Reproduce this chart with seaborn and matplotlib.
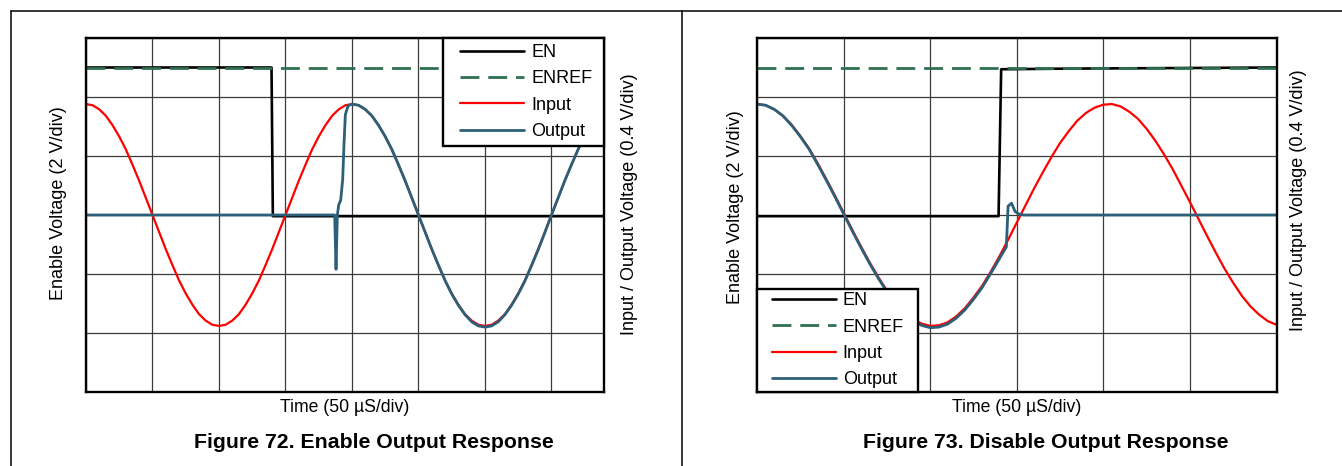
import numpy as np
import pandas as pd
import matplotlib
matplotlib.use("Agg")
import matplotlib.pyplot as plt
import seaborn as sns
from matplotlib.lines import Line2D
from matplotlib.legend_handler import HandlerLine2D

# ---------------- data (time and voltage in divisions) ----------------
series_names = ["EN", "ENREF", "Input", "Output"]

# Figure 72 - Enable Output Response
f72_en_t = [0.0, 2.79, 2.81, 7.79]
f72_en_v = [5.50, 5.50, 2.98, 2.98]
f72_enref_t = [0.0, 7.79]
f72_enref_v = [5.50, 5.50]
f72_in_t = [0.0, 0.1, 0.2, 0.3, 0.4, 0.5, 0.6, 0.7, 0.8, 0.9, 1.0, 1.1, 1.2, 1.3, 1.4, 1.5, 1.6, 1.7, 1.8, 1.9,
            2.0, 2.1, 2.2, 2.3, 2.4, 2.5, 2.6, 2.7, 2.8, 2.9, 3.0, 3.1, 3.2, 3.3, 3.4, 3.5, 3.6, 3.7, 3.8, 3.9,
            4.0, 4.1, 4.2, 4.3, 4.4, 4.5, 4.6, 4.7, 4.8, 4.9, 5.0, 5.1, 5.2, 5.3, 5.4, 5.5, 5.6, 5.7, 5.8, 5.9,
            6.0, 6.1, 6.2, 6.3, 6.4, 6.5, 6.6, 6.7, 6.8, 6.9, 7.0, 7.1, 7.2, 7.3, 7.4, 7.5, 7.6, 7.7, 7.8]
f72_in_v = [4.88, 4.86, 4.79, 4.68, 4.52, 4.33, 4.11, 3.85, 3.58, 3.29, 3.00, 2.71, 2.42, 2.15, 1.89, 1.67, 1.48, 1.32, 1.21, 1.14,
            1.12, 1.14, 1.21, 1.32, 1.48, 1.67, 1.89, 2.15, 2.42, 2.71, 3.00, 3.29, 3.58, 3.85, 4.11, 4.33, 4.52, 4.68, 4.79, 4.86,
            4.88, 4.86, 4.79, 4.68, 4.52, 4.33, 4.11, 3.85, 3.58, 3.29, 3.00, 2.71, 2.42, 2.15, 1.89, 1.67, 1.48, 1.32, 1.21, 1.14,
            1.12, 1.14, 1.21, 1.32, 1.48, 1.67, 1.89, 2.15, 2.42, 2.71, 3.00, 3.29, 3.58, 3.85, 4.11, 4.33, 4.52, 4.68, 4.79]
f72_out_t = [0.0, 3.74, 3.76, 3.78, 3.80, 3.83, 3.86, 3.88, 3.90, 3.94,
             4.0, 4.1, 4.2, 4.3, 4.4, 4.5, 4.6, 4.7, 4.8, 4.9, 5.0, 5.1, 5.2, 5.3, 5.4, 5.5, 5.6, 5.7, 5.8, 5.9,
             6.0, 6.1, 6.2, 6.3, 6.4, 6.5, 6.6, 6.7, 6.8, 6.9, 7.0, 7.1, 7.2, 7.3, 7.4, 7.5, 7.6, 7.7, 7.8]
f72_out_v = [3.00, 3.00, 2.08, 3.00, 3.17, 3.25, 3.60, 4.20, 4.70, 4.85,
             4.88, 4.86, 4.79, 4.68, 4.52, 4.33, 4.11, 3.85, 3.58, 3.29, 3.00, 2.71, 2.42, 2.15, 1.89, 1.66, 1.47, 1.31, 1.19, 1.12,
             1.10, 1.12, 1.19, 1.31, 1.47, 1.66, 1.88, 2.14, 2.41, 2.70, 3.00, 3.29, 3.58, 3.85, 4.11, 4.33, 4.52, 4.68, 4.79]

# Figure 73 - Disable Output Response
f73_en_t = [0.0, 2.79, 2.82, 3.5, 6.0]
f73_en_v = [2.98, 2.98, 5.47, 5.48, 5.50]
f73_enref_t = [0.0, 6.0]
f73_enref_v = [5.50, 5.50]
f73_in_t = [0.0, 0.1, 0.2, 0.3, 0.4, 0.5, 0.6, 0.7, 0.8, 0.9, 1.0, 1.1, 1.2, 1.3, 1.4, 1.5, 1.6, 1.7, 1.8, 1.9,
            2.0, 2.1, 2.2, 2.3, 2.4, 2.5, 2.6, 2.7, 2.8, 2.9, 3.0, 3.1, 3.2, 3.3, 3.4, 3.5, 3.6, 3.7, 3.8, 3.9,
            4.0, 4.1, 4.2, 4.3, 4.4, 4.5, 4.6, 4.7, 4.8, 4.9, 5.0, 5.1, 5.2, 5.3, 5.4, 5.5, 5.6, 5.7, 5.8, 5.9, 6.0]
f73_in_v = [4.88, 4.86, 4.79, 4.68, 4.53, 4.34, 4.13, 3.88, 3.61, 3.33, 3.04, 2.75, 2.47, 2.20, 1.95, 1.72, 1.52, 1.36, 1.24, 1.16,
            1.12, 1.13, 1.18, 1.28, 1.42, 1.60, 1.80, 2.04, 2.30, 2.58, 2.87, 3.16, 3.45, 3.72, 3.98, 4.22, 4.42, 4.60, 4.73, 4.82,
            4.87, 4.88, 4.84, 4.75, 4.63, 4.46, 4.26, 4.03, 3.78, 3.50, 3.22, 2.93, 2.64, 2.36, 2.09, 1.85, 1.63, 1.45, 1.31, 1.20, 1.14]
f73_out_t = [0.0, 0.1, 0.2, 0.3, 0.4, 0.5, 0.6, 0.7, 0.8, 0.9, 1.0, 1.1, 1.2, 1.3, 1.4, 1.5, 1.6, 1.7, 1.8, 1.9,
             2.0, 2.1, 2.2, 2.3, 2.4, 2.5, 2.6, 2.7, 2.8, 2.88, 2.90, 2.94, 2.98, 3.02, 3.08, 6.0]
f73_out_v = [4.88, 4.86, 4.79, 4.68, 4.52, 4.33, 4.12, 3.86, 3.59, 3.31, 3.02, 2.73, 2.45, 2.18, 1.93, 1.70, 1.50, 1.34, 1.21, 1.13,
             1.09, 1.10, 1.15, 1.25, 1.39, 1.57, 1.77, 2.01, 2.26, 2.46, 3.15, 3.20, 3.06, 3.02, 3.00, 3.00]

panel_titles = ["Figure 72. Enable Output Response", "Figure 73. Disable Output Response"]
x_label = "Time (50 µS/div)"
y_label_left = "Enable Voltage (2 V/div)"
y_label_right = "Input / Output Voltage (0.4 V/div)"


def long_frame(en_t, en_v, ref_t, ref_v, in_t, in_v, out_t, out_v):
    parts = []
    for name, t, v in zip(series_names, [en_t, ref_t, in_t, out_t], [en_v, ref_v, in_v, out_v]):
        parts.append(pd.DataFrame({"t": t, "v": v, "series": name}))
    return pd.concat(parts, ignore_index=True)


df72 = long_frame(f72_en_t, f72_en_v, f72_enref_t, f72_enref_v, f72_in_t, f72_in_v, f72_out_t, f72_out_v)
df73 = long_frame(f73_en_t, f73_en_v, f73_enref_t, f73_enref_v, f73_in_t, f73_in_v, f73_out_t, f73_out_v)

# ---------------- style ----------------
sns.set_style("white")
plt.rcParams["font.family"] = ["Liberation Sans", "DejaVu Sans"]
plt.rcParams["text.color"] = "black"

palette = {"EN": "#000000", "ENREF": "#2E7050", "Input": "#FF0000", "Output": "#2C5F78"}
dashes = {"EN": "", "ENREF": (6.8, 3.2), "Input": "", "Output": ""}
sizes = {"EN": 1.9, "ENREF": 2.0, "Input": 1.6, "Output": 2.0}

W, H = 1342, 466
fig = plt.figure(figsize=(W / 100, H / 100), dpi=100, facecolor="white")


def px_rect(x0, y0, x1, y1):
    return [x0 / W, (H - y1) / H, (x1 - x0) / W, (y1 - y0) / H]


class OffsetLineHandler(HandlerLine2D):
    def __init__(self, offset_pts, **kw):
        super().__init__(**kw)
        self.offset_pts = offset_pts

    def get_xdata(self, legend, xdescent, ydescent, width, height, fontsize):
        xdata = np.array([-xdescent + self.offset_pts, -xdescent + width], float)
        return xdata, xdata


panels = [
    dict(df=df72, rect=px_rect(86, 38, 604, 392), xmax=7.79, nx=8,
         leg_bbox=(0.6892, 0.0, 0.3108, 1.0), leg_loc="upper right", leg_pad=0.33,
         ylab_l=(58.5, 203), ylab_r=(629.7, 204), xlab=(345, 407), title=(374, 443)),
    dict(df=df73, rect=px_rect(757, 38, 1276.5, 392), xmax=6.0, nx=7,
         leg_bbox=(0.0, 0.0, 0.3093, 1.0), leg_loc="lower left", leg_pad=0.2,
         ylab_l=(736, 207), ylab_r=(1298.4, 200), xlab=(1017, 407), title=(1046, 443)),
]

for i, p in enumerate(panels):
    ax = fig.add_axes(p["rect"])
    sns.lineplot(data=p["df"], x="t", y="v", hue="series", style="series", size="series",
                 hue_order=series_names, style_order=series_names, size_order=series_names,
                 palette=palette, dashes=dashes, sizes=sizes,
                 estimator=None, sort=False, legend=False, ax=ax)
    ax.set_xlim(0, p["xmax"])
    ax.set_ylim(0, 6)
    ax.set_xticks(np.arange(0, p["nx"]))
    ax.set_yticks(np.arange(0, 7))
    ax.grid(True, color="#3c3c3c", linewidth=0.9)
    ax.set_axisbelow(True)
    ax.tick_params(length=0, labelleft=False, labelbottom=False)
    ax.set_xlabel("")
    ax.set_ylabel("")
    for s in ax.spines.values():
        s.set_visible(True)
        s.set_color("black")
        s.set_linewidth(1.7)

    handles = list(ax.lines[:4])
    hmap = {h: OffsetLineHandler(7.9) for h in handles}
    leg = ax.legend(handles, series_names, loc=p["leg_loc"], bbox_to_anchor=p["leg_bbox"],
                    mode="expand", borderaxespad=0.0, borderpad=p["leg_pad"], labelspacing=0.52,
                    handlelength=4.15, handletextpad=0.4, fontsize=13, frameon=True,
                    fancybox=False, framealpha=1.0, edgecolor="black", handler_map=hmap)
    leg.get_frame().set_linewidth(1.7)
    leg.set_zorder(10)
    for t in leg.get_texts():
        t.set_color("black")

    fig.text(p["ylab_l"][0] / W, 1 - p["ylab_l"][1] / H, y_label_left, rotation=90,
             ha="center", va="center", fontsize=13, color="black")
    fig.text(p["ylab_r"][0] / W, 1 - p["ylab_r"][1] / H, y_label_right, rotation=90,
             ha="center", va="center", fontsize=13, color="black")
    fig.text(p["xlab"][0] / W, 1 - p["xlab"][1] / H, x_label, ha="center", va="center",
             fontsize=12.7, color="black")
    fig.text(p["title"][0] / W, 1 - p["title"][1] / H, panel_titles[i], ha="center", va="center",
             fontsize=15.3, fontweight="bold", color="black")

# panel frame lines
for (x0, y0, x1, y1) in [(10.5, 10.5, 1342, 10.5), (10.5, 10.5, 10.5, 466), (681.5, 10.5, 681.5, 466)]:
    fig.add_artist(Line2D([x0 / W, x1 / W], [1 - y0 / H, 1 - y1 / H], transform=fig.transFigure,
                          color="black", linewidth=1.1))

fig.savefig("out.png", dpi=100, facecolor="white")
